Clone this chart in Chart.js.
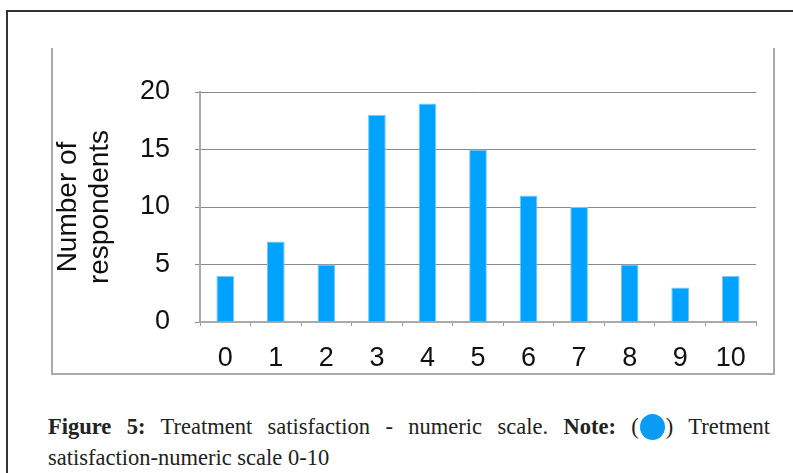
<!DOCTYPE html>
<html>
<head>
<meta charset="utf-8">
<script src="https://cdn.jsdelivr.net/npm/chart.js@4/dist/chart.umd.min.js"></script>
<style>
  body { margin: 0; background: #fff; width: 793px; height: 473px; overflow: hidden; position: relative; }
  #outer { position: absolute; left: 6px; top: 10px; width: 800px; height: 480px; border-top: 2px solid #333; border-left: 2px solid #333; }
  #frame { position: absolute; left: 51px; top: 48px; width: 720px; height: 325px; border-left: 2px solid #aaa; border-right: 2px solid #aaa; border-bottom: 2px solid #aaa; }
  #wrap { position: absolute; left: 0; top: 0; width: 793px; height: 400px; }
  #caption { position: absolute; left: 48px; top: 411px; width: 722px; font-family: "Liberation Serif", serif; font-size: 22.5px; line-height: 31px; color: #222; }
  #caption .l1 { text-align: justify; text-align-last: justify; }
  #caption b { font-weight: bold; }
  .dot { display: inline-block; width: 25px; height: 26px; border-radius: 50%; background: #0a9bf5; vertical-align: -6px; margin: 0 1px; }
</style>
</head>
<body>
<div id="outer"></div>
<div id="frame"></div>
<div id="wrap"><canvas id="chart"></canvas></div>
<div id="caption">
  <div class="l1"><b>Figure 5:</b> Treatment satisfaction - numeric scale. <b>Note:</b> (<span class="dot"></span>) Tretment</div>
  <div>satisfaction-numeric scale 0-10</div>
</div>
<script>
const categories = ['0', '1', '2', '3', '4', '5', '6', '7', '8', '9', '10'];
const respondents = [4, 7, 5, 18, 19, 15, 11, 10, 5, 3, 4];
const yTitle = ['Number of', 'respondents'];

const ctx = document.getElementById('chart');

new Chart(ctx, {
  type: 'bar',
  data: {
    labels: categories,
    datasets: [{
      label: 'Tretment satisfaction-numeric scale 0-10',
      data: respondents,
      backgroundColor: '#00a2ff',
      borderColor: '#7cc8f5',
      borderWidth: 1,
      categoryPercentage: 1,
      barPercentage: 0.35
    }]
  },
  options: {
    responsive: true,
    maintainAspectRatio: false,
    animation: false,
    devicePixelRatio: 1,
    layout: { padding: { left: 40, top: 92, right: 37, bottom: 28 } },
    plugins: {
      legend: { display: false },
      tooltip: { enabled: false }
    },
    scales: {
      x: {
        grid: { drawOnChartArea: false, drawTicks: true, tickLength: 4, color: '#999', offset: true },
        border: { color: '#aaa', width: 2 },
        ticks: { color: '#111', padding: 16, font: { family: 'Liberation Sans', size: 27 } },
        afterFit: s => { s.height = 50; }
      },
      y: {
        min: 0,
        max: 20,
        ticks: { stepSize: 5, color: '#111', padding: 25, font: { family: 'Liberation Sans', size: 27 } },
        grid: { color: '#8a8a8a', lineWidth: 1, tickLength: 5 },
        border: { color: '#aaa', width: 2 },
        title: {
          display: true,
          text: yTitle,
          color: '#111',
          padding: { top: 12, bottom: 0 },
          font: { family: 'Liberation Sans', size: 28, lineHeight: 1.15 }
        },
        afterFit: s => { s.width = 160; }
      }
    }
  }
});
</script>
</body>
</html>
